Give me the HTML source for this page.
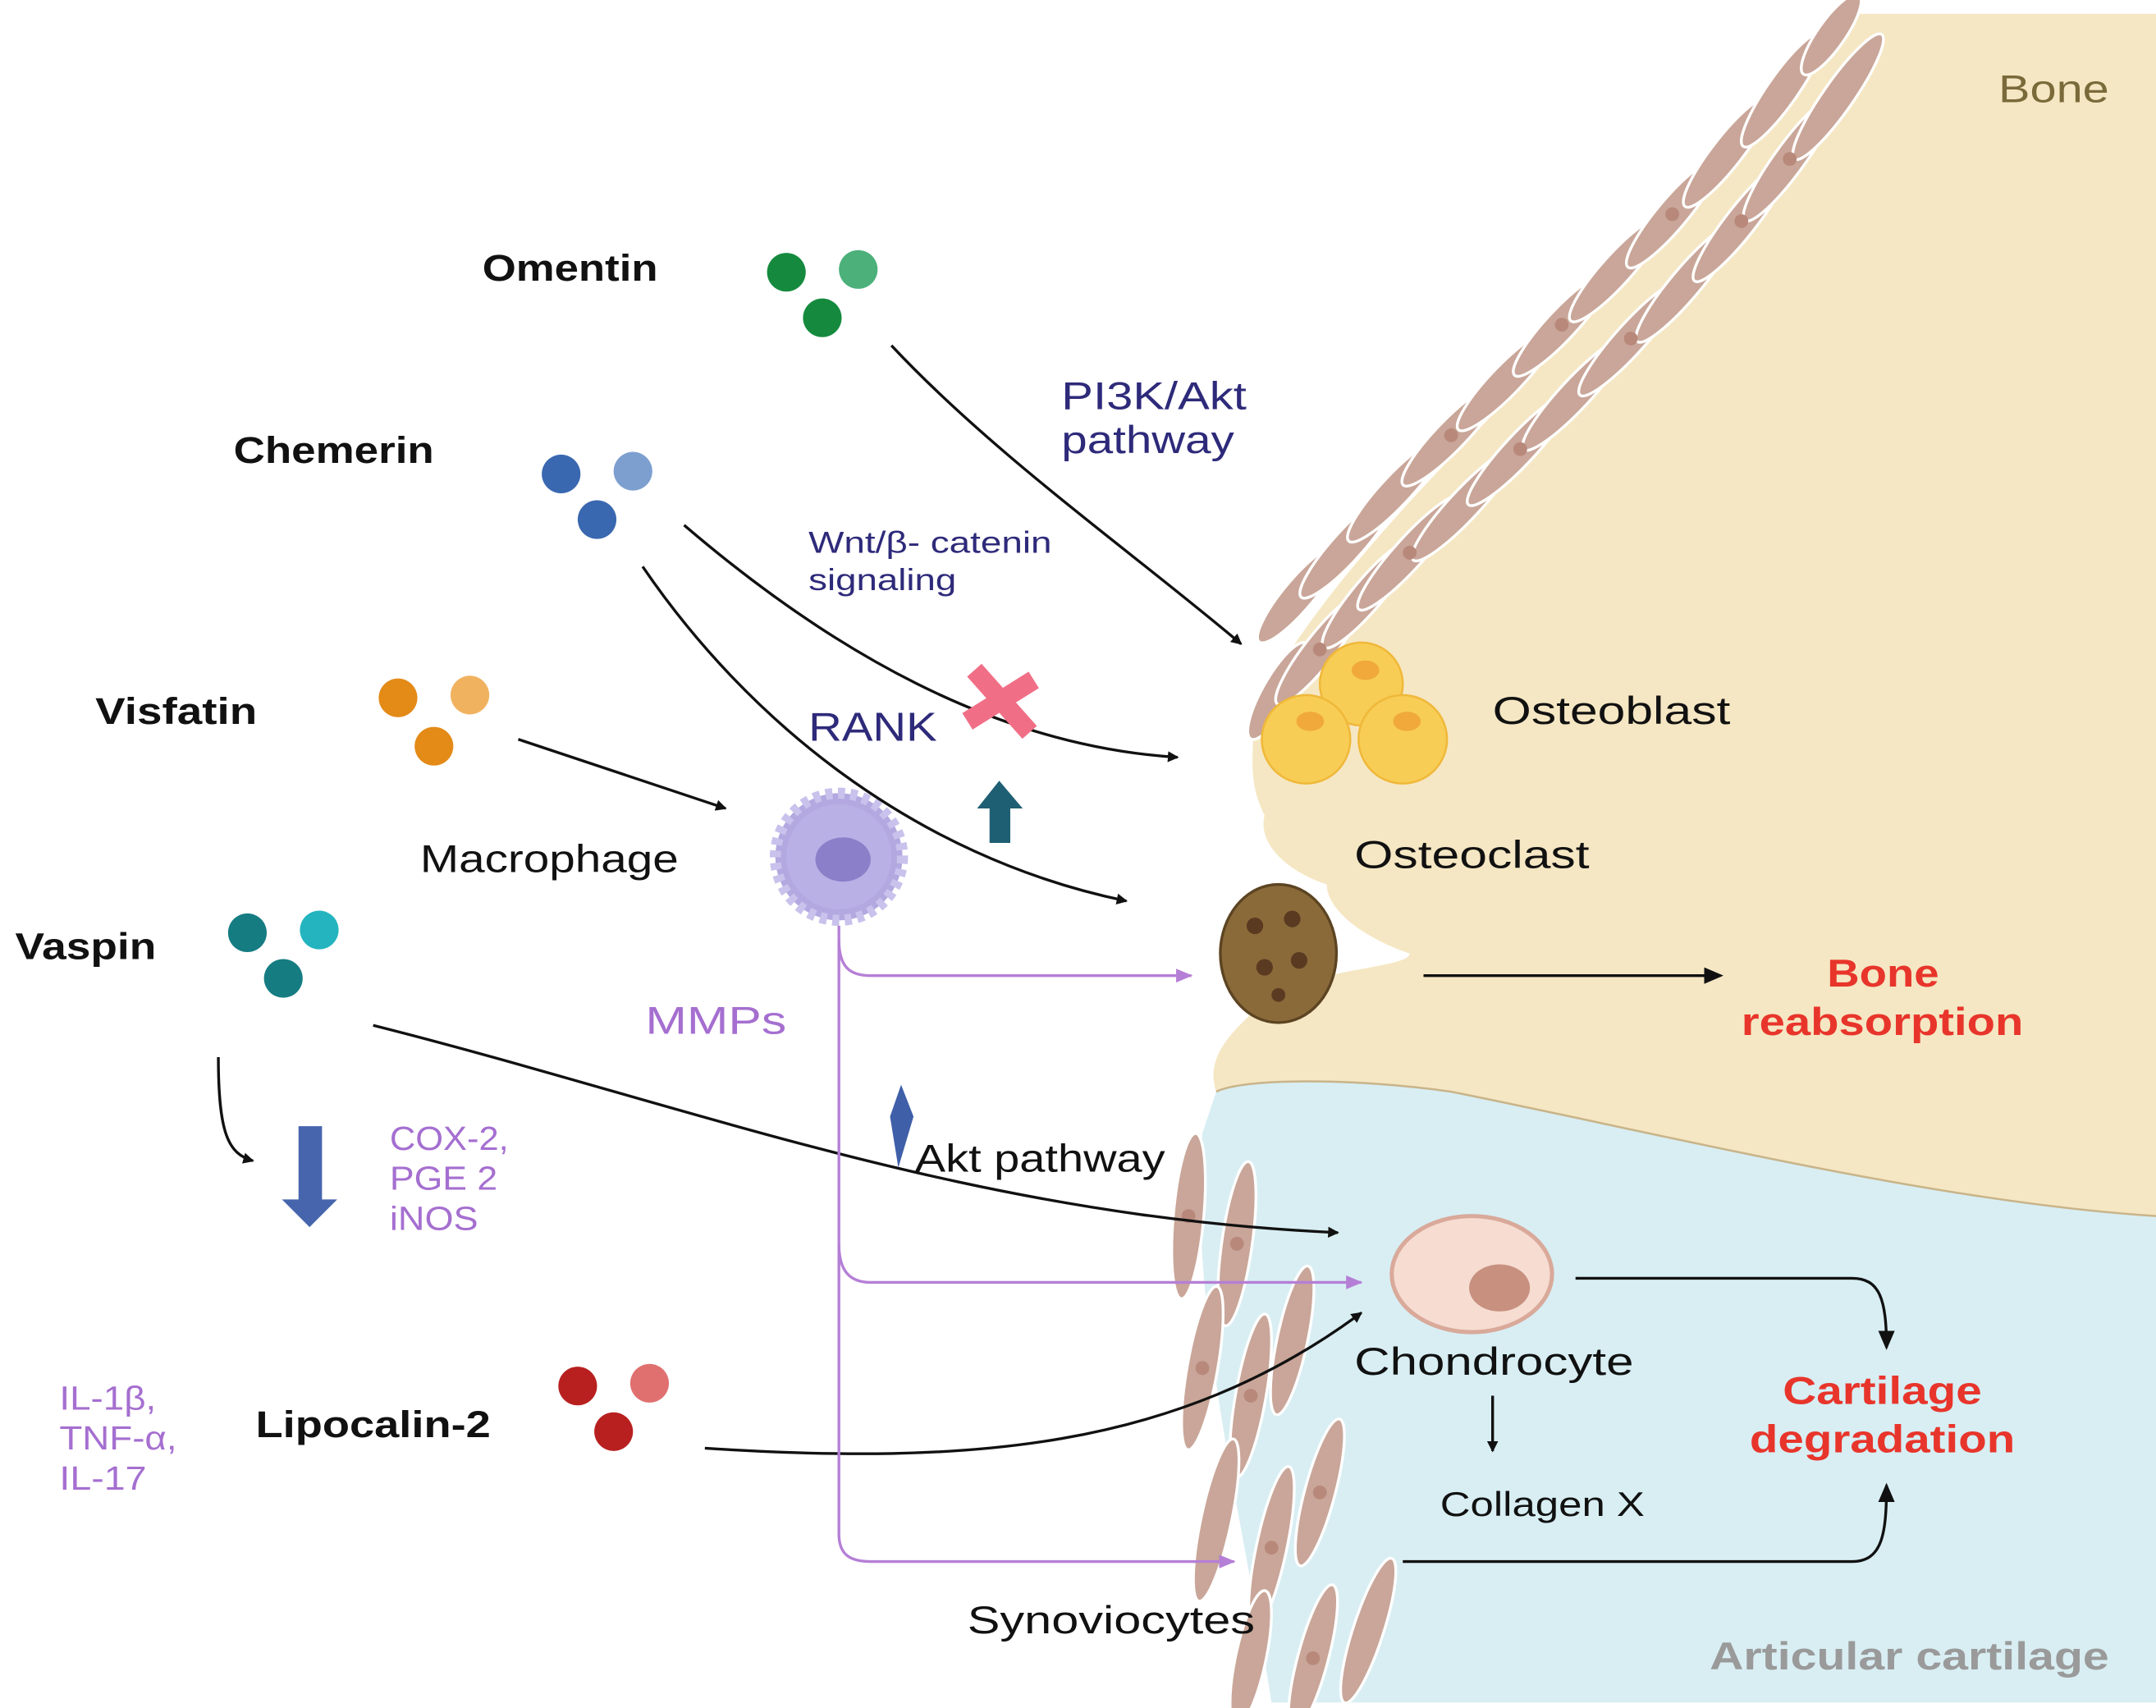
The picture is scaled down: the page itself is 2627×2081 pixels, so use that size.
<!DOCTYPE html>
<html><head><meta charset="utf-8"><style>
html,body{margin:0;padding:0;background:#fff}
svg{display:block}
text{font-family:"Liberation Sans",sans-serif}
</style></head><body>
<svg width="2627" height="2081" viewBox="0 0 1560 1236" preserveAspectRatio="none" xmlns="http://www.w3.org/2000/svg">
<defs>
<marker id="ab" markerWidth="8" markerHeight="8" refX="7" refY="4" orient="auto" markerUnits="userSpaceOnUse"><path d="M0,0 L8,4 L0,8 Z" fill="#111"/></marker>
<marker id="ap" markerWidth="12" markerHeight="10" refX="11" refY="5" orient="auto" markerUnits="userSpaceOnUse"><path d="M0,0 L12,5 L0,10 Z" fill="#b57fd6"/></marker>
<marker id="ak" markerWidth="14" markerHeight="12" refX="12" refY="6" orient="auto" markerUnits="userSpaceOnUse"><path d="M0,0 L14,6 L0,12 Z" fill="#111"/></marker>
</defs>
<!-- bone -->
<path d="M1340,10 L1560,10 L1560,880 C1400,870 1200,820 1050,790 C980,780 900,780 880,790 C870,760 900,740 920,720 C960,700 1020,700 1020,690 C990,680 960,660 960,640 C930,630 910,610 915,590 C900,560 910,540 905,520 C940,450 1000,380 1100,280 C1200,180 1280,80 1340,10 Z" fill="#f5e7c3"/>
<path d="M880,790 C900,780 980,780 1050,790 C1200,820 1400,870 1560,880 L1560,1232 L920,1232 C900,1100 860,950 870,820 Z" fill="#d8eef3"/>
<path d="M880,790 C900,780 980,780 1050,790 C1200,820 1400,870 1560,880" fill="none" stroke="#c9b48a" stroke-width="1.5"/>
<!-- spindle cells diagonal -->
<g fill="#c9a699" stroke="#fff" stroke-width="2">
<g transform="translate(925,500) rotate(-60)"><ellipse rx="40" ry="11"/></g>
<g transform="translate(955,470) rotate(-52)"><ellipse rx="50" ry="11"/></g>
<g transform="translate(940,430) rotate(-50)"><ellipse rx="45" ry="11"/></g>
<g transform="translate(990,430) rotate(-50)"><ellipse rx="50" ry="11"/></g>
<g transform="translate(975,395) rotate(-48)"><ellipse rx="50" ry="11"/></g>
<g transform="translate(1020,400) rotate(-48)"><ellipse rx="55" ry="11"/></g>
<g transform="translate(1010,355) rotate(-47)"><ellipse rx="50" ry="11"/></g>
<g transform="translate(1060,365) rotate(-47)"><ellipse rx="55" ry="11"/></g>
<g transform="translate(1050,315) rotate(-46)"><ellipse rx="50" ry="11"/></g>
<g transform="translate(1100,325) rotate(-47)"><ellipse rx="55" ry="11"/></g>
<g transform="translate(1090,275) rotate(-46)"><ellipse rx="50" ry="11"/></g>
<g transform="translate(1140,285) rotate(-47)"><ellipse rx="55" ry="11"/></g>
<g transform="translate(1130,235) rotate(-47)"><ellipse rx="50" ry="11"/></g>
<g transform="translate(1180,245) rotate(-48)"><ellipse rx="55" ry="11"/></g>
<g transform="translate(1170,195) rotate(-48)"><ellipse rx="50" ry="11"/></g>
<g transform="translate(1220,205) rotate(-50)"><ellipse rx="55" ry="11"/></g>
<g transform="translate(1210,155) rotate(-50)"><ellipse rx="50" ry="11"/></g>
<g transform="translate(1260,160) rotate(-52)"><ellipse rx="55" ry="11"/></g>
<g transform="translate(1250,110) rotate(-52)"><ellipse rx="50" ry="11"/></g>
<g transform="translate(1295,115) rotate(-54)"><ellipse rx="55" ry="11"/></g>
<g transform="translate(1290,65) rotate(-55)"><ellipse rx="50" ry="11"/></g>
<g transform="translate(1330,70) rotate(-55)"><ellipse rx="55" ry="11"/></g>
<g transform="translate(1325,25) rotate(-55)"><ellipse rx="35" ry="10"/></g>
<!-- synoviocytes -->
<g transform="translate(860,880) rotate(-85)"><ellipse rx="60" ry="11"/></g>
<g transform="translate(895,900) rotate(-82)"><ellipse rx="60" ry="11"/></g>
<g transform="translate(870,990) rotate(-80)"><ellipse rx="60" ry="11"/></g>
<g transform="translate(905,1010) rotate(-80)"><ellipse rx="60" ry="11"/></g>
<g transform="translate(935,970) rotate(-78)"><ellipse rx="55" ry="11"/></g>
<g transform="translate(880,1100) rotate(-78)"><ellipse rx="60" ry="11"/></g>
<g transform="translate(920,1120) rotate(-78)"><ellipse rx="60" ry="11"/></g>
<g transform="translate(955,1080) rotate(-75)"><ellipse rx="55" ry="11"/></g>
<g transform="translate(905,1200) rotate(-78)"><ellipse rx="50" ry="11"/></g>
<g transform="translate(950,1200) rotate(-75)"><ellipse rx="55" ry="11"/></g>
<g transform="translate(990,1180) rotate(-72)"><ellipse rx="55" ry="11"/></g>
</g>
<g fill="#b8897b">
<circle cx="1020" cy="400" r="5"/><circle cx="1100" cy="325" r="5"/><circle cx="1180" cy="245" r="5"/><circle cx="1260" cy="160" r="5"/><circle cx="1050" cy="315" r="5"/><circle cx="1130" cy="235" r="5"/><circle cx="1210" cy="155" r="5"/><circle cx="955" cy="470" r="5"/><circle cx="1295" cy="115" r="5"/>
<circle cx="860" cy="880" r="5"/><circle cx="895" cy="900" r="5"/><circle cx="870" cy="990" r="5"/><circle cx="905" cy="1010" r="5"/><circle cx="920" cy="1120" r="5"/><circle cx="955" cy="1080" r="5"/><circle cx="950" cy="1200" r="5"/>
</g>
<!-- osteoblasts -->
<g fill="#f7cd55" stroke="#f0b83a" stroke-width="1.5">
<circle cx="985" cy="495" r="30"/><circle cx="945" cy="535" r="32"/><circle cx="1015" cy="535" r="32"/>
</g>
<g fill="#f0a93a"><ellipse cx="988" cy="485" rx="10" ry="7"/><ellipse cx="948" cy="522" rx="10" ry="7"/><ellipse cx="1018" cy="522" rx="10" ry="7"/></g>
<!-- osteoclast -->
<ellipse cx="925" cy="690" rx="42" ry="50" fill="#8b6a3a" stroke="#5c4422" stroke-width="2"/>
<g fill="#5a3a20"><circle cx="908" cy="670" r="6"/><circle cx="935" cy="665" r="6"/><circle cx="915" cy="700" r="6"/><circle cx="940" cy="695" r="6"/><circle cx="925" cy="720" r="5"/></g>
<!-- chondrocyte -->
<ellipse cx="1065" cy="922" rx="58" ry="42" fill="#f6dcd1" stroke="#d9a99a" stroke-width="3"/>
<ellipse cx="1085" cy="932" rx="22" ry="17" fill="#c7907f"/>
<!-- macrophage -->
<circle cx="607" cy="620" r="46" fill="#b3a9e0" stroke="#c9c2ec" stroke-width="8" stroke-dasharray="5 4"/>
<circle cx="607" cy="620" r="38" fill="#b9b0e6"/>
<ellipse cx="610" cy="622" rx="20" ry="16" fill="#8a7fc8"/>
<!-- adipokine balls -->
<g>
<circle cx="569" cy="197" r="14" fill="#158a3e"/><circle cx="621" cy="195" r="14" fill="#4bb07a"/><circle cx="595" cy="230" r="14" fill="#158a3e"/>
<circle cx="406" cy="343" r="14" fill="#3a68b0"/><circle cx="458" cy="341" r="14" fill="#7d9fd0"/><circle cx="432" cy="376" r="14" fill="#3a68b0"/>
<circle cx="288" cy="505" r="14" fill="#e38a17"/><circle cx="340" cy="503" r="14" fill="#f1b260"/><circle cx="314" cy="540" r="14" fill="#e38a17"/>
<circle cx="179" cy="675" r="14" fill="#157c82"/><circle cx="231" cy="673" r="14" fill="#23b4bf"/><circle cx="205" cy="708" r="14" fill="#157c82"/>
<circle cx="418" cy="1003" r="14" fill="#b82020"/><circle cx="470" cy="1001" r="14" fill="#e07070"/><circle cx="444" cy="1036" r="14" fill="#b82020"/>
</g>
<!-- black arrows -->
<g fill="none" stroke="#111" stroke-width="2">
<path d="M645,250 C720,330 820,400 898,466" marker-end="url(#ab)"/>
<path d="M495,380 C600,470 720,540 852,548" marker-end="url(#ab)"/>
<path d="M465,410 C540,520 660,620 815,652" marker-end="url(#ab)"/>
<path d="M375,535 L525,585" marker-end="url(#ab)"/>
<path d="M270,742 C500,800 700,880 968,892" marker-end="url(#ab)"/>
<path d="M510,1048 C700,1060 850,1050 985,950" marker-end="url(#ab)"/>
<path d="M158,765 C158,820 165,835 183,840" marker-end="url(#ab)"/>
<path d="M1030,706 L1245,706" marker-end="url(#ak)"/>
<path d="M1140,925 L1340,925 C1360,925 1365,940 1365,975" marker-end="url(#ak)"/>
<path d="M1015,1130 L1340,1130 C1362,1130 1365,1110 1365,1075" marker-end="url(#ak)"/>
<path d="M1080,1010 L1080,1050" marker-end="url(#ab)"/>
</g>
<!-- purple -->
<g fill="none" stroke="#b57fd6" stroke-width="2">
<path d="M607,670 L607,1110 C607,1125 615,1130 630,1130 L893,1130" marker-end="url(#ap)"/>
<path d="M607,680 C607,700 615,706 630,706 L862,706" marker-end="url(#ap)"/>
<path d="M607,900 C607,920 615,928 630,928 L985,928" marker-end="url(#ap)"/>
</g>
<!-- block arrows -->
<path d="M716,610 L716,585 L707,585 L723,565 L740,585 L731,585 L731,610 Z" fill="#1f5f73"/>
<path d="M216,815 L233,815 L233,868 L244,868 L224,888 L204,868 L216,868 Z" fill="#4665ad"/>
<path d="M650,845 L644,808 L652,785 L661,808 Z" fill="#3f5fa8"/>
<!-- red X -->
<g stroke="#f06f86" stroke-width="14"><line x1="705" y1="485" x2="745" y2="530"/><line x1="748" y1="492" x2="700" y2="522"/></g>
<!-- labels -->
<g font-weight="bold" font-size="27" fill="#111" lengthAdjust="spacingAndGlyphs">
<text x="349" y="203" textLength="127" lengthAdjust="spacingAndGlyphs">Omentin</text>
<text x="169" y="335" textLength="145" lengthAdjust="spacingAndGlyphs">Chemerin</text>
<text x="69" y="524" textLength="117" lengthAdjust="spacingAndGlyphs">Visfatin</text>
<text x="11" y="694" textLength="102" lengthAdjust="spacingAndGlyphs">Vaspin</text>
<text x="185" y="1040" textLength="170" lengthAdjust="spacingAndGlyphs">Lipocalin-2</text>
</g>
<g font-size="28" fill="#111">
<text x="304" y="631" textLength="187" lengthAdjust="spacingAndGlyphs">Macrophage</text>
<text x="1080" y="524" textLength="172" lengthAdjust="spacingAndGlyphs">Osteoblast</text>
<text x="980" y="628" textLength="170" lengthAdjust="spacingAndGlyphs">Osteoclast</text>
<text x="980" y="995" textLength="202" lengthAdjust="spacingAndGlyphs">Chondrocyte</text>
<text x="700" y="1182" textLength="208" lengthAdjust="spacingAndGlyphs">Synoviocytes</text>
<text x="662" y="848" textLength="181" lengthAdjust="spacingAndGlyphs">Akt pathway</text>
</g>
<text x="1042" y="1097" font-size="25" fill="#111" textLength="148" lengthAdjust="spacingAndGlyphs">Collagen X</text>
<g fill="#2e2a7a"><text x="768" y="296" font-size="28" textLength="134" lengthAdjust="spacingAndGlyphs">PI3K/Akt</text><text x="768" y="328" font-size="28" textLength="125" lengthAdjust="spacingAndGlyphs">pathway</text>
<text x="585" y="400" font-size="22" textLength="176" lengthAdjust="spacingAndGlyphs">Wnt/β- catenin</text><text x="585" y="427" font-size="22" textLength="107" lengthAdjust="spacingAndGlyphs">signaling</text>
<text x="585" y="536" font-size="29" textLength="93" lengthAdjust="spacingAndGlyphs">RANK</text></g>
<g fill="#a56fd0" font-size="24"><text x="467" y="748" font-size="28" textLength="102" lengthAdjust="spacingAndGlyphs">MMPs</text>
<text x="282" y="832" textLength="86" lengthAdjust="spacingAndGlyphs">COX-2,</text><text x="282" y="861" textLength="78" lengthAdjust="spacingAndGlyphs">PGE 2</text><text x="282" y="890" textLength="64" lengthAdjust="spacingAndGlyphs">iNOS</text>
<text x="43" y="1020" textLength="70" lengthAdjust="spacingAndGlyphs">IL-1β,</text><text x="43" y="1049" textLength="85" lengthAdjust="spacingAndGlyphs">TNF-α,</text><text x="43" y="1078" textLength="63" lengthAdjust="spacingAndGlyphs">IL-17</text></g>
<g fill="#e8352b" font-weight="bold" font-size="28">
<text x="1322" y="714" textLength="81" lengthAdjust="spacingAndGlyphs">Bone</text><text x="1260" y="749" textLength="204" lengthAdjust="spacingAndGlyphs">reabsorption</text>
<text x="1290" y="1016" textLength="144" lengthAdjust="spacingAndGlyphs">Cartilage</text><text x="1266" y="1051" textLength="192" lengthAdjust="spacingAndGlyphs">degradation</text></g>
<text x="1446" y="74" font-size="28" fill="#7a6a3a" textLength="80" lengthAdjust="spacingAndGlyphs">Bone</text>
<text x="1237" y="1208" font-size="28" font-weight="bold" fill="#9a9a9a" textLength="289" lengthAdjust="spacingAndGlyphs">Articular cartilage</text>
</svg>
</body></html>
